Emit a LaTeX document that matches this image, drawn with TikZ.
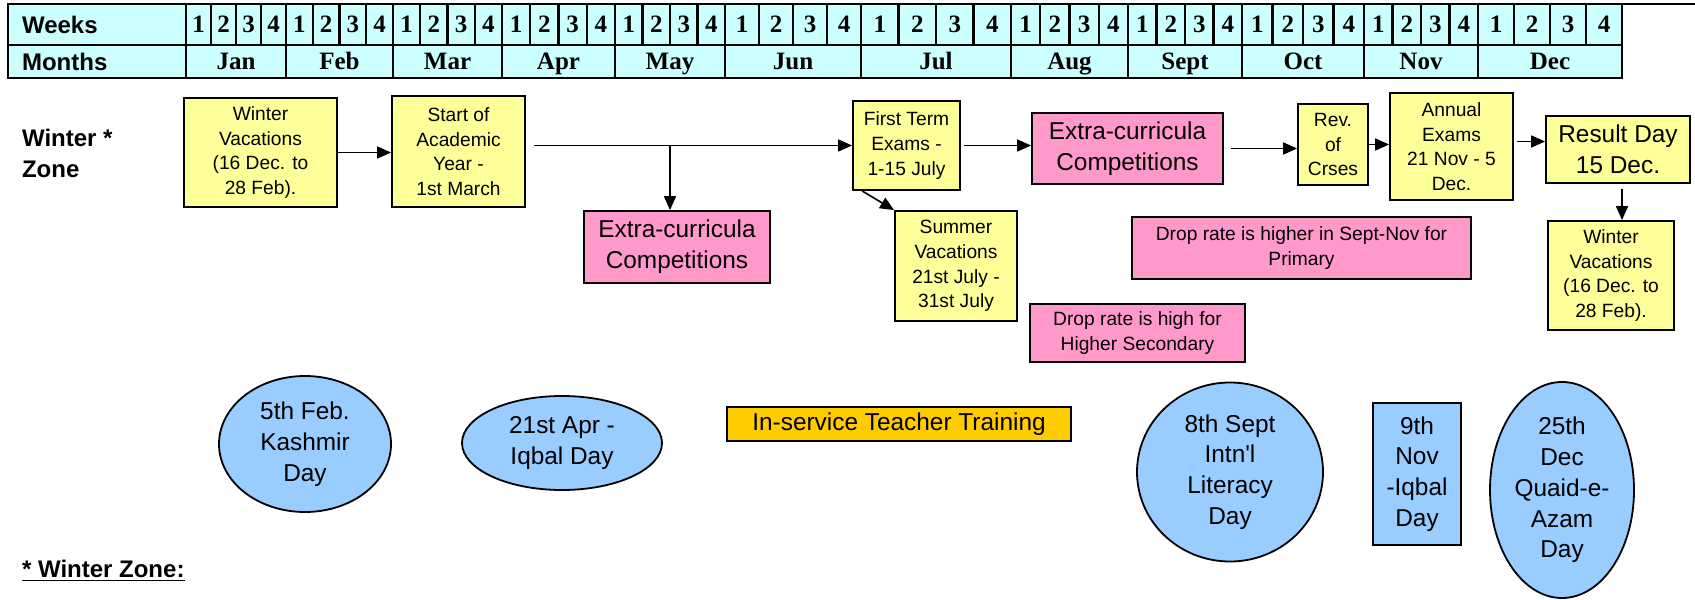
\documentclass[tikz,border=0pt]{standalone}
\usepackage{fontspec}
\setmainfont{Liberation Sans}
\newfontfamily\tms{Liberation Serif}
\usetikzlibrary{arrows.meta,shapes.geometric}
\definecolor{tblcyan}{HTML}{CCFFFF}
\definecolor{boxyel}{HTML}{FFFF99}
\definecolor{boxpnk}{HTML}{FF99CC}
\definecolor{boxblu}{HTML}{99CCFF}
\definecolor{boxorg}{HTML}{FFCC00}
\newcommand\boxsml{\fontsize{9.6}{12.3}\selectfont}
\newcommand\boxbig{\fontsize{12.2}{15.4}\selectfont}
\newcommand\tblhd{\bfseries\fontsize{12}{15.5}\selectfont}
\newcommand\tblno{\tms\bfseries\fontsize{12.5}{14}\selectfont}

\begin{document}
\begin{tikzpicture}[x=0.5pt,y=-0.5pt,
    tbl/.style={draw,line width=1.2pt,fill=tblcyan},
    arr/.style={-{Triangle[length=7pt,width=6pt]},line width=0.8pt},
    yel/.style={draw,line width=0.9pt,fill=boxyel,align=center,inner sep=0pt,font=\boxsml},
    pnk/.style={draw,line width=0.9pt,fill=boxpnk,align=center,inner sep=0pt,font=\boxbig},
    blu/.style={draw,line width=0.9pt,fill=boxblu,align=center,inner sep=0pt,font=\boxbig},
    org/.style={draw,line width=0.9pt,fill=boxorg,align=center,inner sep=0pt,font=\boxbig},
    oval/.style={ellipse,draw,line width=0.9pt,fill=boxblu,align=center,inner sep=0pt,font=\boxbig}]
    \useasboundingbox[fill=white] (0,0) rectangle (1695,599);
    \draw[tbl] (8,4) rectangle (186,45);
    \draw[tbl] (8,45) rectangle (186,78);
    \node[anchor=west,font=\tblhd] (wk) at (15,24.5) {Weeks};
    \node[anchor=west,font=\tblhd] (mo) at (15,61.5) {Months};
    \foreach \a/\b/\m [count=\i] in {186/286/Jan,286/393/Feb,393/502/Mar,502/615/Apr,615/725/May,725/861/Jun,861/1011/Jul,1011/1128/Aug,1128/1242/Sept,1242/1364/Oct,1364/1478/Nov,1478/1622/Dec}{
        \draw[tbl] (\a,45) rectangle (\b,78);
        \node[font=\tblno,anchor=base] (m\i) at ({(\a+\b)/2},69) {\m};
        \foreach \k in {1,...,4}{
            \pgfmathsetmacro\wa{\a+(\k-1)*(\b-\a)/4}
            \pgfmathsetmacro\wb{\a+\k*(\b-\a)/4}
            \draw[tbl] (\wa,4) rectangle (\wb,45);
            \node[font=\tblno] (w\i-\k) at ({(\wa+\wb)/2},24.5) {\k};
        }
    }
    \draw[line width=1.2pt] (8,4) -- (1695,4);

    \node[anchor=west,align=left,font=\tblhd] (zone) at (15,153.5) {Winter *\\Zone};
    \node[yel,minimum width=76.5pt,minimum height=54.5pt] (wv1) at (260.5,152.5) {Winter\\Vacations\\(16 Dec. to\\28 Feb).};
    \node[yel,minimum width=66.5pt,minimum height=55.5pt] (say) at (458.5,151.5) {Start of\\Academic\\Year -\\1st March};
    \node[yel,minimum width=53.5pt,minimum height=44.5pt] (ft) at (906.5,145.5) {First Term\\Exams -\\1-15 July};
    \node[pnk,minimum width=93pt,minimum height=36pt] (ec1) at (677,247) {Extra-curricula\\Competitions};
    \node[yel,minimum width=61pt,minimum height=55pt] (sv) at (956,266) {Summer\\Vacations\\21st July -\\31st July};
    \node[pnk,minimum width=95.5pt,minimum height=35.5pt] (ec2) at (1127.5,148.5) {Extra-curricula\\Competitions};
    \node[yel,minimum width=35pt,minimum height=40.5pt] (rev) at (1333,144.5) {Rev.\\of\\Crses};
    \node[yel,minimum width=61.5pt,minimum height=53.5pt] (ae) at (1451.5,146.5) {Annual\\Exams\\21 Nov - 5\\Dec.};
    \node[yel,font=\boxbig,minimum width=72pt,minimum height=33.5pt] (rd) at (1618,149.5) {Result Day\\15 Dec.};
    \node[yel,minimum width=63pt,minimum height=54.5pt] (wv2) at (1611,275.5) {Winter\\Vacations\\(16 Dec. to\\28 Feb).};
    \node[pnk,font=\boxsml,minimum width=169.5pt,minimum height=31pt] (dr1) at (1301.5,248) {Drop rate is higher in Sept-Nov for\\Primary};
    \node[pnk,font=\boxsml,minimum width=107.5pt,minimum height=29pt] (dr2) at (1137.5,333) {Drop rate is high for\\Higher Secondary};

    \coordinate (ls) at ([xshift=4pt]say.east);
    \coordinate (dn) at ([xshift=-3.5pt]ec1.north);
    \coordinate (rdd) at ([xshift=2pt,yshift=-2.5pt]rd.south);
    \draw[arr] (wv1.east) -- (wv1.east -| say.west);
    \draw[arr] (ls |- ft.west) -- (ft.west);
    \draw[arr] (dn |- ft.west) -- (dn);
    \draw[arr] ([xshift=1.5pt]ft.east) -- (ft.east -| ec2.west);
    \draw[arr] ([xshift=5pt]ft.south west) -- (sv.north west);
    \draw[arr] ([xshift=3.5pt]ec2.east) -- (ec2.east -| rev.west);
    \draw[arr] (rev.east) -- (rev.east -| ae.west);
    \draw[arr] ([xshift=1.5pt,yshift=2.5pt]ae.east) -- ([yshift=2.5pt]ae.east -| rd.west);
    \draw[arr] (rdd) -- (rdd |- wv2.north);

    \node[oval,minimum width=86pt,minimum height=68pt] (kas) at (305,444) {5th Feb.\\Kashmir\\Day};
    \node[oval,minimum width=100pt,minimum height=47pt] (iqb) at (562,443) {21st Apr -\\Iqbal Day};
    \node[org,minimum width=172pt,minimum height=17pt] (ist) at (899,424) {In-service Teacher Training};
    \node[oval,minimum width=93pt,minimum height=89.5pt] (lit) at (1230,472) {8th Sept\\Intn\textquotesingle l\\Literacy\\Day};
    \node[blu,minimum width=44pt,minimum height=71pt] (nov) at (1417,474) {9th\\Nov\\-Iqbal\\Day};
    \node[oval,minimum width=72pt,minimum height=108pt] (qua) at (1562,490) {25th\\Dec\\Quaid-e-\\Azam\\Day};
    \node[anchor=base west,font=\tblhd] (note) at (15,577) {\underline{* Winter Zone:}};
\end{tikzpicture}
\end{document}
